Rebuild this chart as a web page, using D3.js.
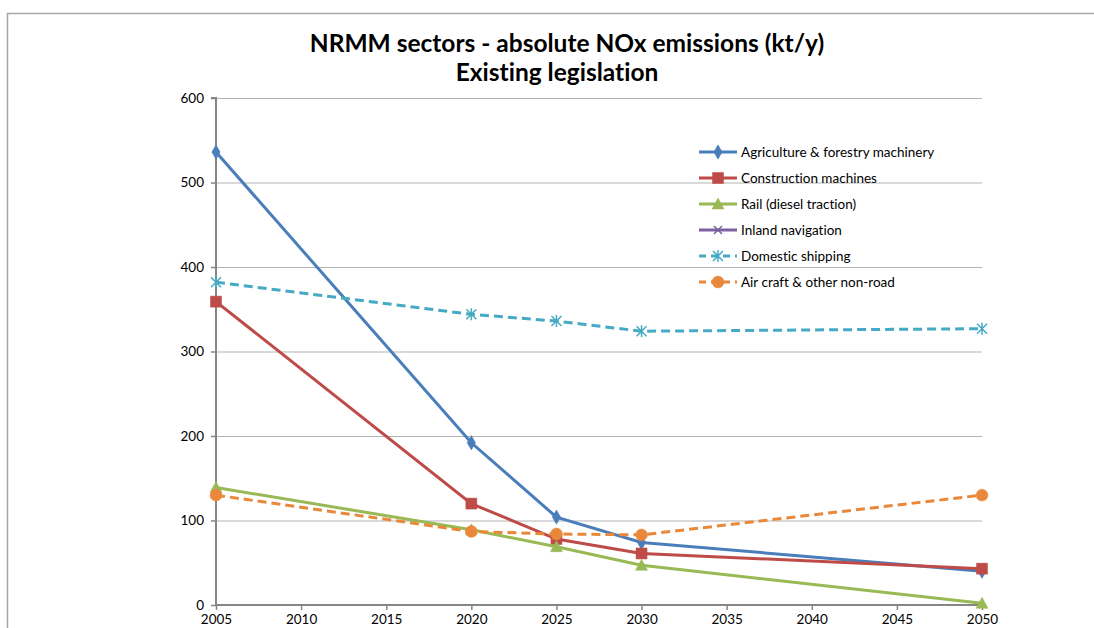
<!DOCTYPE html>
<html>
<head>
<meta charset="utf-8">
<script src="https://cdn.jsdelivr.net/npm/d3@7"></script>
<style>
  body { margin: 0; background: #fff; }
  text { font-family: Lato, "Open Sans", sans-serif; fill: #000; font-variant-ligatures: none; }
</style>
</head>
<body>
<script>
// chart data
var years = [2005, 2020, 2025, 2030, 2050];
var xTicks = [2005, 2010, 2015, 2020, 2025, 2030, 2035, 2040, 2045, 2050];
var yTicks = [0, 100, 200, 300, 400, 500, 600];

var agriculture = [536, 192, 104, 74, 40];
var construction = [359, 120, 78, 61, 43];
var rail = [139, 89, 69, 47, 2];
var inland = [null, null, null, null, null]; // no values shown in the picture
var domestic = [382, 344, 336, 324, 327];
var aircraft = [130, 87, 84, 83, 130];

var seriesNames = ["Agriculture & forestry machinery", "Construction machines", "Rail (diesel traction)",
  "Inland navigation", "Domestic shipping", "Air craft & other non-road"];

var w = 1094, h = 628;

var series = [
  { name: seriesNames[0], values: agriculture, color: "#4a7ebb", marker: "diamond", dash: null },
  { name: seriesNames[1], values: construction, color: "#be4b48", marker: "square", dash: null },
  { name: seriesNames[2], values: rail, color: "#98b954", marker: "triangle", dash: null },
  { name: seriesNames[3], values: inland, color: "#7d60a0", marker: "cross", dash: null },
  { name: seriesNames[4], values: domestic, color: "#46aac5", marker: "star", dash: "9,5" },
  { name: seriesNames[5], values: aircraft, color: "#e9883a", marker: "circle", dash: "9,5" }
];

var svg = d3.select("body").append("svg").attr("width", w).attr("height", h);

// outer chart frame (cut off on the right and bottom)
svg.append("path")
  .attr("d", "M7.5," + h + "V13.5H" + w)
  .attr("fill", "none")
  .attr("stroke", "#a6a6a6")
  .attr("stroke-width", 1.5);

var x = d3.scaleLinear().domain([2005, 2050]).range([216, 982]);
var y = d3.scaleLinear().domain([0, 600]).range([605, 98]);

// title
svg.append("text").attr("x", 567).attr("y", 52).attr("text-anchor", "middle")
  .style("font-size", "24.5px").style("font-weight", "bold")
  .text("NRMM sectors - absolute NOx emissions (kt/y)");
svg.append("text").attr("x", 557).attr("y", 81).attr("text-anchor", "middle")
  .style("font-size", "24.5px").style("font-weight", "bold")
  .text("Existing legislation");

// gridlines
svg.append("g").selectAll("line")
  .data(yTicks.filter(function(d) { return d > 0; }))
  .enter().append("line")
  .attr("x1", x(2005)).attr("x2", x(2050))
  .attr("y1", function(d) { return y(d) + 0.5; })
  .attr("y2", function(d) { return y(d) + 0.5; })
  .attr("stroke", "#b3b3b3").attr("stroke-width", 1);

// axes
var yAxis = svg.append("g")
  .attr("transform", "translate(" + x(2005) + ",0)")
  .call(d3.axisLeft(y).tickValues(yTicks).tickSize(5).tickPadding(7).tickFormat(d3.format("d")));
var xAxis = svg.append("g")
  .attr("transform", "translate(0," + y(0) + ")")
  .call(d3.axisBottom(x).tickValues(xTicks).tickSize(5).tickPadding(4).tickFormat(d3.format("d")));

[xAxis, yAxis].forEach(function(a) {
  a.select(".domain").attr("stroke", "#868686").attr("stroke-width", 2);
  a.selectAll(".tick line").attr("stroke", "#868686").attr("stroke-width", 1.5);
  a.selectAll("text").style("font-size", "13.5px").style("font-family", "Lato, 'Open Sans', sans-serif").attr("fill", "#000");
});
yAxis.select(".domain").attr("d", "M-5," + y(600) + "H0V" + y(0));
xAxis.select(".domain").attr("d", "M" + x(2005) + ",0H" + x(2050));

function markerPath(type) {
  switch (type) {
    case "diamond": return d3.symbol().type(d3.symbolDiamond).size(60)();
    case "square": return "M-5.5,-5.5H5.5V5.5H-5.5Z";
    case "triangle": return "M0,-6L6,5H-6Z";
    case "cross": return "M-4,-4L4,4M-4,4L4,-4";
    case "star": return "M-5,-5L5,5M-5,5L5,-5M0,-6V6";
    case "circle": return d3.symbol().type(d3.symbolCircle).size(110)();
  }
}

function drawMarker(g, s) {
  var open = s.marker === "cross" || s.marker === "star";
  g.append("path")
    .attr("d", markerPath(s.marker))
    .attr("fill", open ? "none" : s.color)
    .attr("stroke", s.color)
    .attr("stroke-width", open ? 1.5 : 0.5);
}

var line = d3.line()
  .defined(function(d) { return d.v != null; })
  .x(function(d) { return x(d.year); })
  .y(function(d) { return y(d.v); });

series.forEach(function(s) {
  var pts = years.map(function(yr, i) { return { year: yr, v: s.values[i] }; });
  var g = svg.append("g").attr("class", "series");
  g.append("path")
    .datum(pts)
    .attr("d", line)
    .attr("fill", "none")
    .attr("stroke", s.color)
    .attr("stroke-width", 3)
    .attr("stroke-dasharray", s.dash);
  pts.filter(function(d) { return d.v != null; }).forEach(function(d) {
    drawMarker(g.append("g").attr("transform", "translate(" + x(d.year) + "," + y(d.v) + ")"), s);
  });
});

// legend
var legend = svg.append("g").attr("transform", "translate(699,152)");
var items = legend.selectAll("g").data(series).enter().append("g")
  .attr("transform", function(d, i) { return "translate(0," + i * 26 + ")"; });
items.append("line")
  .attr("x1", 0).attr("x2", 38).attr("y1", 0).attr("y2", 0)
  .attr("stroke", function(d) { return d.color; })
  .attr("stroke-width", 3)
  .attr("stroke-dasharray", function(d) { return d.dash ? "7,5" : null; });
items.each(function(d) {
  drawMarker(d3.select(this).append("g").attr("transform", "translate(19,0)"), d);
});
items.append("text")
  .attr("x", 42).attr("y", 4.5)
  .style("font-size", "13.5px")
  .text(function(d) { return d.name; });
</script>
</body>
</html>
